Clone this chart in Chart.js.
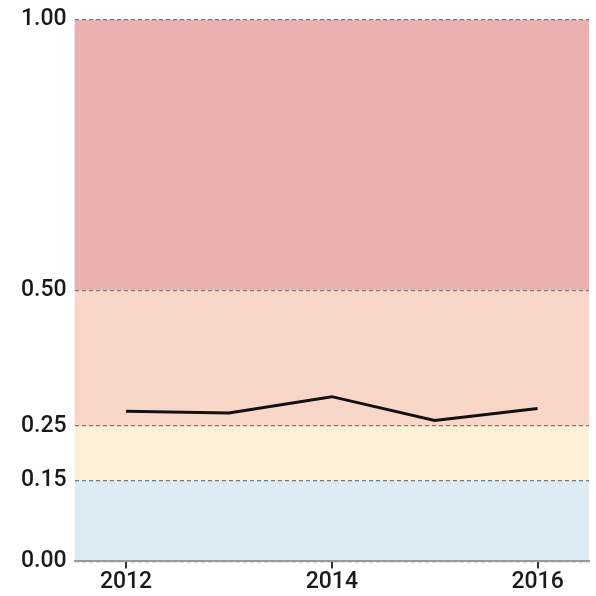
<!DOCTYPE html>
<html>
<head>
<meta charset="utf-8">
<script src="https://cdn.jsdelivr.net/npm/chart.js@4.4.0/dist/chart.umd.min.js"></script>
<style>
  html, body { margin: 0; padding: 0; background: #fff; }
  #wrap { width: 596px; height: 596px; }
</style>
</head>
<body>
<div id="wrap"><canvas id="canvas" width="596" height="596"></canvas></div>
<script>
// yearly series
const years = [2012, 2013, 2014, 2015, 2016];
const values = [0.277, 0.274, 0.304, 0.260, 0.282];

// y ticks and the shaded bands behind the line
const yTicks = [0, 0.15, 0.25, 0.5, 1];
const xTicks = [2012, 2014, 2016];
const bandEdges = [0, 0.15, 0.25, 0.5, 1];
const bandColors = ['#ddecf4', '#fcf0d6', '#f8d6c8', '#ebb0b0'];

const bands = {
  id: 'bands',
  beforeDraw(chart) {
    const ctx = chart.ctx;
    const area = chart.chartArea;
    const y = chart.scales.y;
    ctx.save();
    for (let i = 0; i < bandColors.length; i++) {
      const top = y.getPixelForValue(bandEdges[i + 1]);
      const bottom = y.getPixelForValue(bandEdges[i]);
      ctx.fillStyle = bandColors[i];
      ctx.fillRect(area.left, top, area.right - area.left, bottom - top);
    }
    ctx.restore();
  }
};

const font = { family: 'Roboto', size: 23, weight: '500' };

let chart = new Chart(document.getElementById('canvas').getContext('2d'), {
  type: 'line',
  data: {
    datasets: [{
      data: years.map((yr, i) => ({ x: yr, y: values[i] })),
      borderColor: '#111',
      borderWidth: 3,
      pointRadius: 0,
      tension: 0,
      fill: false
    }]
  },
  options: {
    responsive: false,
    animation: false,
    layout: { padding: { top: 4, right: 7, left: 13, bottom: 0 } },
    plugins: { legend: { display: false }, tooltip: { enabled: false } },
    scales: {
      x: {
        type: 'linear',
        min: 2011.5,
        max: 2016.5,
        afterBuildTicks: (axis) => { axis.ticks = xTicks.map(v => ({ value: v })); },
        ticks: {
          color: '#1a1a1a',
          font: font,
          padding: 0,
          maxRotation: 0,
          callback: (v) => String(v)
        },
        grid: { drawOnChartArea: false, drawTicks: true, tickLength: 7, color: '#333', lineWidth: 2 },
        border: { display: true, color: '#999', width: 2 }
      },
      y: {
        min: 0,
        max: 1,
        afterBuildTicks: (axis) => { axis.ticks = yTicks.map(v => ({ value: v })); },
        ticks: {
          color: '#1a1a1a',
          font: { family: 'Roboto', size: 23, weight: '500', lineHeight: 1.0 },
          padding: 8,
          callback: (v) => v.toFixed(2)
        },
        grid: { color: '#7a7a7a', lineWidth: 1.2, drawTicks: false },
        border: { display: false, dash: [4, 3] }
      }
    }
  },
  plugins: [bands]
});
</script>
</body>
</html>
